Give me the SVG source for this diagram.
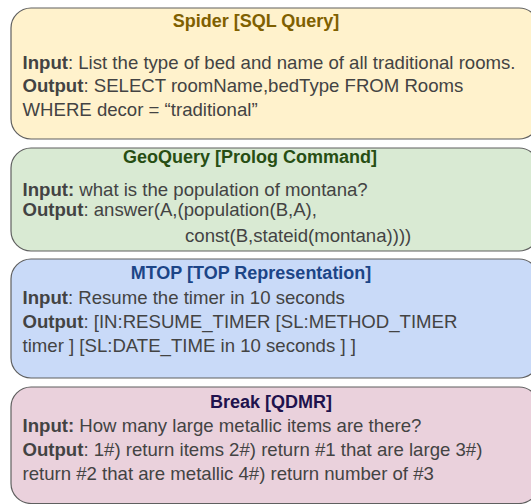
<svg xmlns="http://www.w3.org/2000/svg" width="531" height="504" viewBox="0 0 531 504">
  <style>
    .card { stroke: #5f5f5f; stroke-width: 1.2; }
    .title { font-family: "Liberation Sans", Arial, sans-serif; font-size: 18px; font-weight: bold; }
    .body { font-family: "Liberation Sans", Arial, sans-serif; font-size: 18.6px; fill: #434343; }
    .body tspan.k { font-weight: bold; }
  </style>
  <rect width="531" height="504" fill="#ffffff"/>

  <!-- Spider -->
  <g id="spider">
    <rect class="card" x="11" y="8" width="528" height="131" rx="20" ry="20" fill="#fff2cc"/>
    <text class="title" x="256" y="26.5" text-anchor="middle" fill="#7f6000">Spider [SQL Query]</text>
    <text class="body" x="22.5" y="68.5"><tspan class="k">Input</tspan>: List the type of bed and name of all traditional rooms.</text>
    <text class="body" x="22.5" y="92"><tspan class="k">Output</tspan>: SELECT roomName,bedType FROM Rooms</text>
    <text class="body" x="22.5" y="115.5">WHERE decor = “traditional”</text>
  </g>

  <!-- GeoQuery -->
  <g id="geoquery">
    <rect class="card" x="11" y="148" width="528" height="103" rx="20" ry="20" fill="#d9ead3"/>
    <text class="title" x="250" y="163" text-anchor="middle" fill="#274e13" font-size="17.3">GeoQuery [Prolog Command]</text>
    <text class="body" x="22.5" y="196"><tspan class="k">Input:</tspan> what is the population of montana?</text>
    <text class="body" x="22.5" y="216"><tspan class="k">Output</tspan>: answer(A,(population(B,A),</text>
    <text class="body" x="185" y="241.5">const(B,stateid(montana))))</text>
  </g>

  <!-- MTOP -->
  <g id="mtop">
    <rect class="card" x="11" y="259" width="528" height="119" rx="20" ry="20" fill="#c9daf8"/>
    <text class="title" x="251" y="279" text-anchor="middle" fill="#1c4587">MTOP [TOP Representation]</text>
    <text class="body" x="22.5" y="303.5"><tspan class="k">Input</tspan>: Resume the timer in 10 seconds</text>
    <text class="body" x="22.5" y="327.5"><tspan class="k">Output</tspan>: [IN:RESUME_TIMER [SL:METHOD_TIMER</text>
    <text class="body" x="22.5" y="351.5">timer ] [SL:DATE_TIME in 10 seconds ] ]</text>
  </g>

  <!-- Break -->
  <g id="break">
    <rect class="card" x="11" y="387" width="528" height="116.5" rx="20" ry="20" fill="#ead1dc"/>
    <text class="title" x="271" y="407.5" text-anchor="middle" fill="#20124d">Break [QDMR]</text>
    <text class="body" x="22.5" y="431.5"><tspan class="k">Input:</tspan> How many large metallic items are there?</text>
    <text class="body" x="22.5" y="455.5"><tspan class="k">Output</tspan>: 1#) return items 2#) return #1 that are large 3#)</text>
    <text class="body" x="22.5" y="479.5">return #2 that are metallic 4#) return number of #3</text>
  </g>

  <g id="connectors"/>
</svg>
